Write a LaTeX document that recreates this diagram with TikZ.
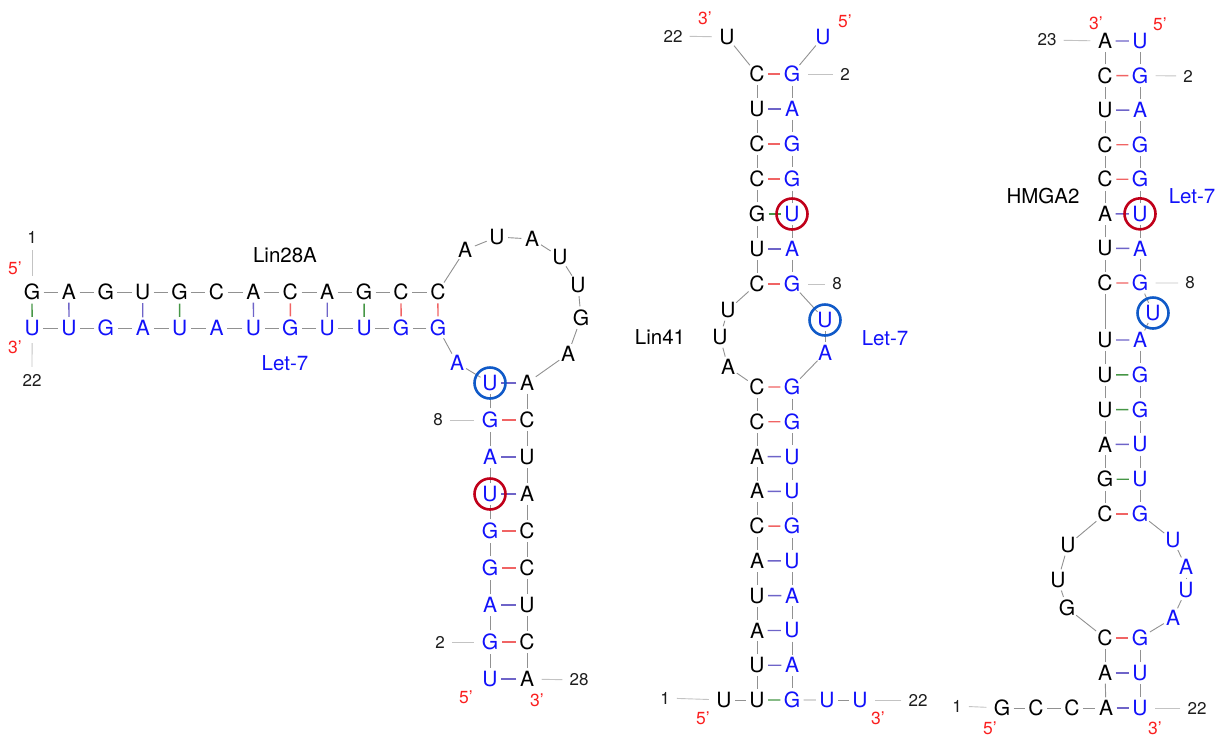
\documentclass[tikz,border=0pt]{standalone}
\usepackage{fontspec}
\setmainfont{TeX Gyre Heros}
\definecolor{ntblue}{RGB}{18,18,250}
\definecolor{bbgray}{RGB}{145,145,145}
\definecolor{tickgray}{RGB}{195,195,195}
\definecolor{pred}{RGB}{240,100,100}
\definecolor{pblue}{RGB}{110,100,200}
\definecolor{pgreen}{RGB}{70,150,70}
\definecolor{hred}{RGB}{192,0,26}
\definecolor{hblue}{RGB}{16,90,200}
\definecolor{primered}{RGB}{250,30,30}
\definecolor{numgray}{RGB}{30,30,30}
\newcommand\ntfont{\fontsize{21}{21}\selectfont}
\newcommand\numfont{\fontsize{17}{17}\selectfont}
\newcommand\labfont{\fontsize{20.5}{20.5}\selectfont}
\newcommand\primefont{\fontsize{17.5}{17.5}\selectfont}
\begin{document}
\begin{tikzpicture}[x=1pt,y=-1pt,
  nt/.style={circle,inner sep=0pt,minimum size=21pt,font=\ntfont},
  bk/.style={nt,text=black},
  bl/.style={nt,text=ntblue},
  bb/.style={draw=bbgray,line width=0.9pt},
  pgc/.style={draw=pred,line width=1.4pt},
  pau/.style={draw=pblue,line width=1.4pt},
  pgu/.style={draw=pgreen,line width=1.4pt},
  num/.style={font=\numfont,text=numgray,inner sep=1pt},
  prime/.style={font=\primefont,text=primered,inner sep=0pt},
  lab/.style={font=\labfont,inner sep=0pt},
  tick/.style={draw=tickgray,line width=0.9pt,shorten <=6pt,shorten >=4pt},
  hlr/.style={draw=hred,line width=2.6pt},
  hlb/.style={draw=hblue,line width=2.6pt}]
\useasboundingbox (0,0) rectangle (1221,740);

% ================= LEFT: Lin28A / Let-7 =================
\foreach \l [count=\i] in {G,A,G,U,G,C,A,C,A,G,C,C}
  \node[bk] (At\i) at ({32+36.9*(\i-1)},292) {\l};
\node[bk] (At13) at (465,250) {A};
\node[bk] (At14) at (497,237) {U};
\node[bk] (At15) at (532,239) {A};
\node[bk] (At16) at (560,257) {U};
\node[bk] (At17) at (578,285) {U};
\node[bk] (At18) at (581,318) {G};
\node[bk] (At19) at (568,354) {A};
\foreach \l [count=\k] in {A,C,U,A,C,C,U,C,A}
  {\pgfmathtruncatemacro\i{\k+19}
   \node[bk] (At\i) at (527,{383+37*(\k-1)}) {\l};}
\foreach \l [count=\i] in {U,G,A,G,G,U,A,G,U}
  \node[bl] (Am\i) at (490,{679-37*(\i-1)}) {\l};
\node[bl] (Am10) at (457,363) {A};
\foreach \l [count=\k] in {G,G,U,U,G,U,A,U,A,G,U,U}
  {\pgfmathtruncatemacro\i{\k+10}
   \node[bl] (Am\i) at ({438-36.9*(\k-1)},328) {\l};}
\foreach \i in {1,...,27}
  {\pgfmathtruncatemacro\j{\i+1}\draw[bb] (At\i) -- (At\j);}
\foreach \i in {1,...,21}
  {\pgfmathtruncatemacro\j{\i+1}\draw[bb] (Am\i) -- (Am\j);}
\foreach \a/\b in {At8/Am15,At11/Am12,At12/Am11,At21/Am8,At24/Am5,At25/Am4,At27/Am2}
  \draw[pgc] (\a) -- (\b);
\foreach \a/\b in {At2/Am21,At4/Am19,At7/Am16,At9/Am14,At20/Am9,At22/Am7,At23/Am6,At26/Am3,At28/Am1}
  \draw[pau] (\a) -- (\b);
\foreach \a/\b in {At1/Am22,At5/Am18,At10/Am13}
  \draw[pgu] (\a) -- (\b);
\node[num] (An1) at (32,237) {1};
\node[num] (An22) at (32,380) {22};
\node[num] (An8) at (438,420) {8};
\node[num] (An2) at (440,642) {2};
\node[num] (An28) at (579,680) {28};
\draw[tick] (An1) -- (At1);
\draw[tick] (An22) -- (Am22);
\draw[tick] (An8) -- (Am8);
\draw[tick] (An2) -- (Am2);
\draw[tick] (An28) -- (At28);
\node[prime] (Ap5a) at (15,268) {5'};
\node[prime] (Ap3a) at (15,347) {3'};
\node[prime] (Ap5b) at (466,697) {5'};
\node[prime] (Ap3b) at (537,700) {3'};
\node[lab] (Alab) at (285,255) {Lin28A};
\node[lab,text=ntblue] (Alet) at (285,363) {Let-7};
\draw[hlb] (Am9.center) circle[radius=15.5pt];
\draw[hlr] (Am6.center) circle[radius=15.5pt];

% ================= MIDDLE: Lin41 / Let-7 =================
\node[bl] (Bm1) at (823,37) {U};
\foreach \l [count=\k] in {G,A,G,G,U,A,G}
  {\pgfmathtruncatemacro\i{\k+1}
   \node[bl] (Bm\i) at (792,{74+35*(\k-1)}) {\l};}
\node[bl] (Bm9) at (825,320) {U};
\node[bl] (Bm10) at (825,353) {A};
\foreach \l [count=\k] in {G,G,U,U,G,U,A,U,A,G}
  {\pgfmathtruncatemacro\i{\k+10}
   \node[bl] (Bm\i) at (792,{387+34.78*(\k-1)}) {\l};}
\node[bl] (Bm21) at (827,700) {U};
\node[bl] (Bm22) at (860,700) {U};
\node[bk] (Bt1) at (724,700) {U};
\foreach \l [count=\k] in {U,U,A,U,A,C,A,A,C,C}
  {\pgfmathtruncatemacro\i{\k+1}
   \node[bk] (Bt\i) at (757,{700-34.78*(\k-1)}) {\l};}
\node[bk] (Bt12) at (728,367) {A};
\node[bk] (Bt13) at (720,337) {U};
\node[bk] (Bt14) at (728,310) {U};
\foreach \l [count=\k] in {C,U,G,C,C,U,C}
  {\pgfmathtruncatemacro\i{\k+14}
   \node[bk] (Bt\i) at (757,{284-35*(\k-1)}) {\l};}
\node[bk] (Bt22) at (727,37) {U};
\foreach \i in {1,...,21}
  {\pgfmathtruncatemacro\j{\i+1}\draw[bb] (Bt\i) -- (Bt\j);
   \draw[bb] (Bm\i) -- (Bm\j);}
\foreach \a/\b in {Bt15/Bm8,Bt18/Bm5,Bt19/Bm4,Bt21/Bm2,Bt11/Bm11,Bt10/Bm12,Bt7/Bm15}
  \draw[pgc] (\a) -- (\b);
\foreach \a/\b in {Bt16/Bm7,Bt20/Bm3,Bt9/Bm13,Bt8/Bm14,Bt6/Bm16,Bt5/Bm17,Bt4/Bm18,Bt3/Bm19}
  \draw[pau] (\a) -- (\b);
\foreach \a/\b in {Bt17/Bm6,Bt2/Bm20}
  \draw[pgu] (\a) -- (\b);
\node[num] (Bn22a) at (673,36) {22};
\node[num] (Bn2) at (845,74) {2};
\node[num] (Bn8) at (837,284) {8};
\node[num] (Bn1) at (665,698) {1};
\node[num] (Bn22b) at (918,700) {22};
\draw[tick] (Bn22a) -- (Bt22);
\draw[tick] (Bn2) -- (Bm2);
\draw[tick] (Bn8) -- (Bm8);
\draw[tick] (Bn1) -- (Bt1);
\draw[tick] (Bn22b) -- (Bm22);
\node[prime] (Bp3a) at (705,18) {3'};
\node[prime] (Bp5a) at (845,21) {5'};
\node[prime] (Bp5b) at (703,718) {5'};
\node[prime] (Bp3b) at (878,718) {3'};
\node[lab] (Blab) at (660,337) {Lin41};
\node[lab,text=ntblue] (Blet) at (885,338) {Let-7};
\draw[hlr] (Bm6.center) circle[radius=15.5pt];
\draw[hlb] (Bm9.center) circle[radius=15.5pt];

% ================= RIGHT: HMGA2 / Let-7 =================
\foreach \l [count=\i] in {U,G,A,G,G,U,A,G}
  \node[bl] (Cm\i) at (1140,{41+34.57*(\i-1)}) {\l};
\node[bl] (Cm9) at (1153,313) {U};
\foreach \l [count=\k] in {A,G,G,U,U,G}
  {\pgfmathtruncatemacro\i{\k+9}
   \node[bl] (Cm\i) at (1140,{340+34.8*(\k-1)}) {\l};}
\node[bl] (Cm16) at (1173,540) {U};
\node[bl] (Cm17) at (1186,567) {A};
\node[bl] (Cm18) at (1186,590) {U};
\node[bl] (Cm19) at (1173,618) {A};
\foreach \l [count=\k] in {G,U,U}
  {\pgfmathtruncatemacro\i{\k+19}
   \node[bl] (Cm\i) at (1140,{638+35*(\k-1)}) {\l};}
\node[bk] (Ct1) at (1002,708) {G};
\node[bk] (Ct2) at (1036,708) {C};
\node[bk] (Ct3) at (1072,708) {C};
\node[bk] (Ct4) at (1106,708) {A};
\node[bk] (Ct5) at (1105,673) {A};
\node[bk] (Ct6) at (1105,638) {C};
\node[bk] (Ct7) at (1067,608) {G};
\node[bk] (Ct8) at (1058,580) {U};
\node[bk] (Ct9) at (1068,545) {U};
\foreach \l [count=\k] in {C,G,A,U,U,U}
  {\pgfmathtruncatemacro\i{\k+9}
   \node[bk] (Ct\i) at (1105,{514-34.8*(\k-1)}) {\l};}
\foreach \l [count=\k] in {C,U,A,C,C,U,C,A}
  {\pgfmathtruncatemacro\i{\k+15}
   \node[bk] (Ct\i) at (1105,{283-34.57*(\k-1)}) {\l};}
\foreach \i in {1,...,22}
  {\pgfmathtruncatemacro\j{\i+1}\draw[bb] (Ct\i) -- (Ct\j);}
\foreach \i in {1,...,21}
  {\pgfmathtruncatemacro\j{\i+1}\draw[bb] (Cm\i) -- (Cm\j);}
\foreach \a/\b in {Ct22/Cm2,Ct20/Cm4,Ct19/Cm5,Ct16/Cm8,Ct10/Cm15,Ct6/Cm20}
  \draw[pgc] (\a) -- (\b);
\foreach \a/\b in {Ct23/Cm1,Ct21/Cm3,Ct18/Cm6,Ct17/Cm7,Ct15/Cm10,Ct12/Cm13,Ct5/Cm21,Ct4/Cm22}
  \draw[pau] (\a) -- (\b);
\foreach \a/\b in {Ct14/Cm11,Ct13/Cm12,Ct11/Cm14}
  \draw[pgu] (\a) -- (\b);
\node[num] (Cn23) at (1047,40) {23};
\node[num] (Cn2) at (1188,76) {2};
\node[num] (Cn8) at (1190,283) {8};
\node[num] (Cn1) at (957,706) {1};
\node[num] (Cn22) at (1197,708) {22};
\draw[tick] (Cn23) -- (Ct23);
\draw[tick] (Cn2) -- (Cm2);
\draw[tick] (Cn8) -- (Cm8);
\draw[tick] (Cn1) -- (Ct1);
\draw[tick] (Cn22) -- (Cm22);
\node[prime] (Cp3a) at (1096,23) {3'};
\node[prime] (Cp5a) at (1160,24) {5'};
\node[prime] (Cp5b) at (990,728) {5'};
\node[prime] (Cp3b) at (1155,728) {3'};
\node[lab] (Clab) at (1043,196) {HMGA2};
\node[lab,text=ntblue] (Clet) at (1192,196) {Let-7};
\draw[hlr] (Cm6.center) circle[radius=15.5pt];
\draw[hlb] (Cm9.center) circle[radius=15.5pt];
\end{tikzpicture}
\end{document}
